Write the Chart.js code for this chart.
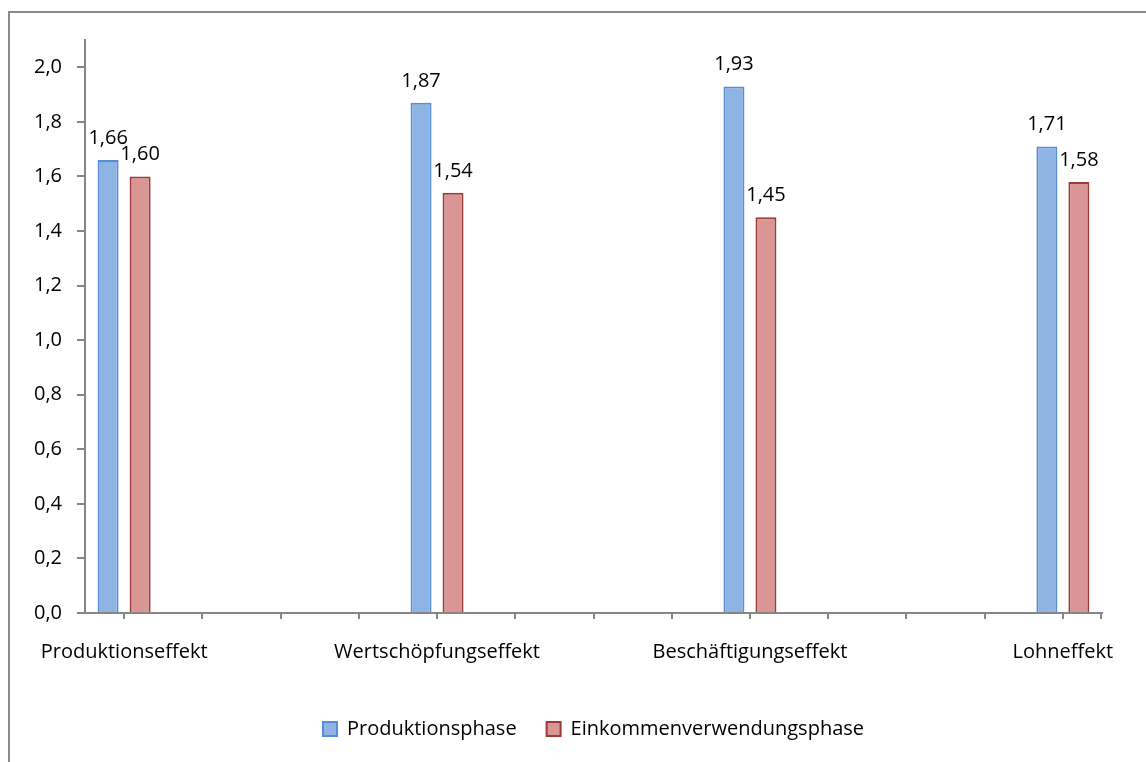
<!DOCTYPE html>
<html>
<head>
<meta charset="utf-8">
<script src="https://cdn.jsdelivr.net/npm/chart.js@4.4.1/dist/chart.umd.min.js"></script>
<style>
  html, body { margin: 0; padding: 0; background: #ffffff; overflow: hidden; }
  #wrap { position: relative; width: 1146px; height: 762px; }
  #frame { position: absolute; left: 8px; top: 11px; width: 1300px; height: 900px;
           border: 2px solid #8a8a8a; box-sizing: border-box; pointer-events: none; }
  canvas { position: absolute; left: 0; top: 0; }
</style>
</head>
<body>
<div id="wrap">
  <div id="frame"></div>
  <canvas id="c" width="1146" height="762"></canvas>
</div>
<script>
// ---- data ----
const categories = ['Produktionseffekt', 'Wertschöpfungseffekt', 'Beschäftigungseffekt', 'Lohneffekt'];
const produktionsphase = [1.66, 1.87, 1.93, 1.71];
const einkommenverwendungsphase = [1.60, 1.54, 1.45, 1.58];
const seriesNames = ['Produktionsphase', 'Einkommenverwendungsphase'];
const yTickValues = [0, 0.2, 0.4, 0.6, 0.8, 1.0, 1.2, 1.4, 1.6, 1.8, 2.0];

// The original axis has 3 empty tick slots between each labelled category.
const slotStep = 4;
const slotCount = (categories.length - 1) * slotStep + 1;
function spread(arr, fill) {
  const out = new Array(slotCount).fill(fill);
  arr.forEach((v, i) => { out[i * slotStep] = v; });
  return out;
}
const slotLabels = spread(categories, '');
const slotP = spread(produktionsphase, null);
const slotE = spread(einkommenverwendungsphase, null);

const fmt = (v, d) => Number(v).toFixed(d).replace('.', ',');
const FONT = '"Open Sans"';
const FSIZE = 20;
const AXIS = '#868686';

const valueLabels = {
  id: 'valueLabels',
  afterDatasetsDraw(chart) {
    const ctx = chart.ctx;
    ctx.save();
    ctx.font = FSIZE + 'px ' + FONT;
    ctx.fillStyle = '#000000';
    ctx.textAlign = 'center';
    ctx.textBaseline = 'alphabetic';
    chart.data.datasets.forEach((ds, di) => {
      const meta = chart.getDatasetMeta(di);
      meta.data.forEach((el, i) => {
        const v = ds.data[i];
        if (v === null || v === undefined) return;
        ctx.fillText(fmt(v, 2), el.x, el.y - 16);
      });
    });
    // closing tick mark at the right end of the category axis
    const xs = chart.scales.x;
    ctx.strokeStyle = AXIS;
    ctx.lineWidth = 2;
    ctx.beginPath();
    ctx.moveTo(xs.right - 1, xs.top);
    ctx.lineTo(xs.right - 1, xs.top + 6);
    ctx.stroke();
    ctx.restore();
  }
};

new Chart(document.getElementById('c'), {
  type: 'bar',
  data: {
    labels: slotLabels,
    datasets: [
      {
        label: seriesNames[0],
        data: slotP,
        backgroundColor: '#8EB4E3',
        borderColor: '#558ED5',
        borderWidth: 2,
        borderSkipped: 'bottom'
      },
      {
        label: seriesNames[1],
        data: slotE,
        backgroundColor: '#D99694',
        borderColor: '#9B3B38',
        borderWidth: 2,
        borderSkipped: 'bottom'
      }
    ]
  },
  options: {
    responsive: false,
    animation: false,
    devicePixelRatio: 1,
    layout: { padding: { left: 0, right: 44, top: 40, bottom: 13 } },
    categoryPercentage: 0.818,
    barPercentage: 0.656,
    plugins: {
      legend: {
        position: 'bottom',
        fullSize: false,
        labels: {
          font: { family: 'Open Sans', size: FSIZE },
          color: '#000000',
          boxWidth: 14,
          boxHeight: 14,
          padding: 30,
          generateLabels(chart) {
            return chart.data.datasets.map((ds, i) => ({
              text: ds.label,
              fillStyle: ds.backgroundColor,
              strokeStyle: ds.borderColor,
              lineWidth: 2,
              fontColor: '#000000',
              hidden: false,
              datasetIndex: i
            }));
          }
        }
      },
      tooltip: { enabled: false }
    },
    scales: {
      x: {
        type: 'category',
        offset: true,
        grid: {
          display: true,
          drawOnChartArea: false,
          drawTicks: true,
          tickLength: 6,
          offset: false,
          color: AXIS,
          lineWidth: 2
        },
        border: { display: true, color: AXIS, width: 2 },
        ticks: {
          autoSkip: false,
          maxRotation: 0,
          minRotation: 0,
          padding: 21,
          color: '#000000',
          font: { family: 'Open Sans', size: FSIZE }
        },
        afterFit(scale) { scale.height = 76; }
      },
      y: {
        min: 0,
        max: 2.1,
        grid: {
          display: true,
          drawOnChartArea: false,
          drawTicks: true,
          tickLength: 8,
          color: AXIS,
          lineWidth: 2
        },
        border: { display: true, color: AXIS, width: 2 },
        afterBuildTicks(scale) { scale.ticks = yTickValues.map(v => ({ value: v })); },
        ticks: {
          padding: 15,
          color: '#000000',
          font: { family: 'Open Sans', size: FSIZE },
          callback: (v) => fmt(v, 1)
        },
        afterFit(scale) { scale.width = 85; }
      }
    }
  },
  plugins: [valueLabels]
});
</script>
</body>
</html>
